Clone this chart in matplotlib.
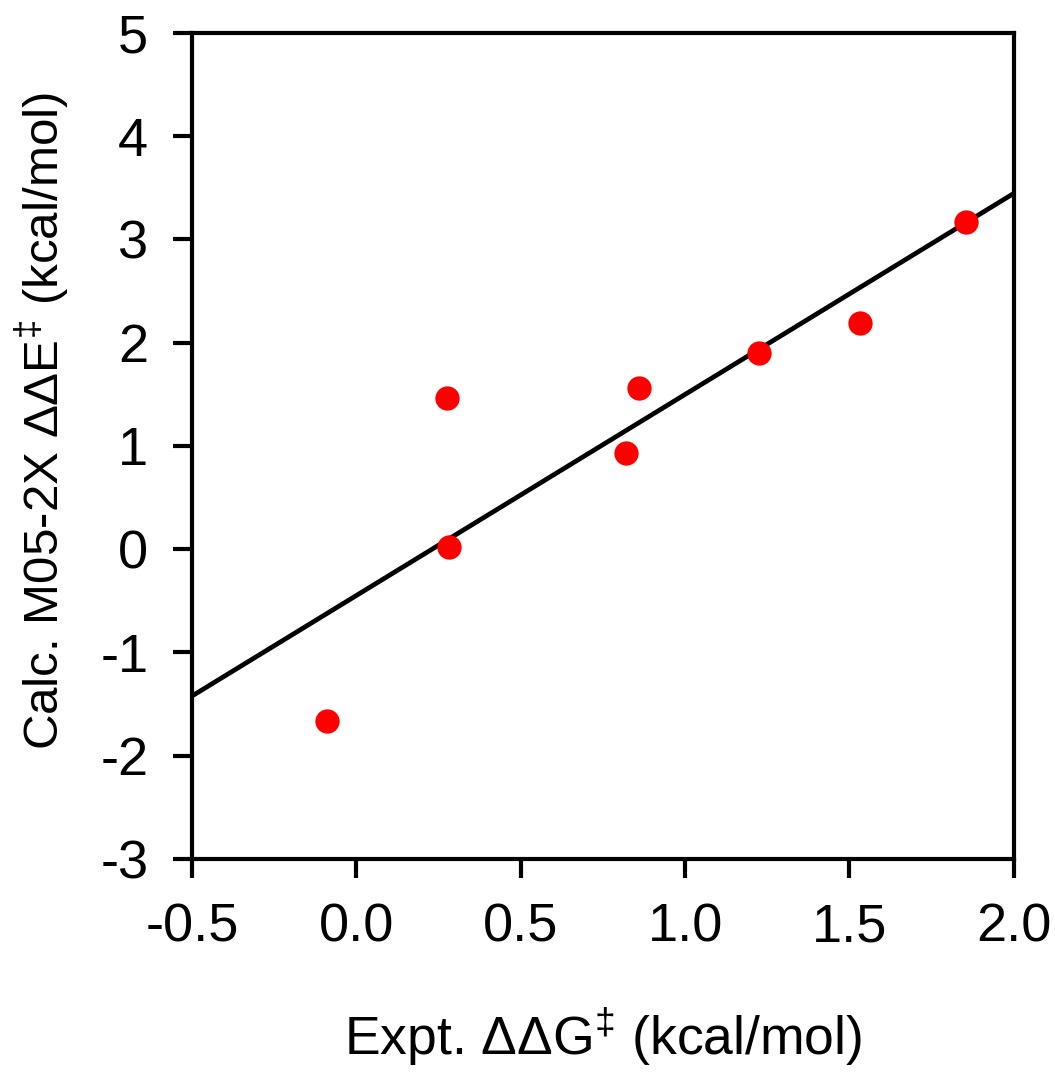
import matplotlib
matplotlib.use("Agg")
import matplotlib.pyplot as plt
import numpy as np

# measured points (expt vs calc)
expt = [-0.09, 0.276, 0.282, 0.82, 0.86, 1.224, 1.532, 1.854]
calc = [-1.66, 1.465, 0.02, 0.93, 1.56, 1.90, 2.19, 3.17]

xticks = [-0.5, 0.0, 0.5, 1.0, 1.5, 2.0]
yticks = [-3, -2, -1, 0, 1, 2, 3, 4, 5]

plt.rcParams['font.family'] = ['Liberation Sans', 'DejaVu Sans']
plt.rcParams['mathtext.fontset'] = 'custom'
plt.rcParams['mathtext.rm'] = 'Liberation Sans'

fig = plt.figure(figsize=(10.55, 10.72), dpi=100)
ax = fig.add_axes([0.182, 0.1987, 0.779, 0.7706])

# linear fit through the points
slope, icpt = np.polyfit(expt, calc, 1)
xl = np.array([-0.5, 2.0])
ax.plot(xl, slope * xl + icpt, color='black', lw=3.4, zorder=2)

ax.plot(expt, calc, 'o', color='#ff0000', ms=17.5, mec='none', zorder=3)

ax.set_xlim(-0.5, 2.0)
ax.set_ylim(-3, 5)
ax.set_xticks(xticks)
ax.set_xticklabels(['%.1f' % v for v in xticks])
ax.set_yticks(yticks)
ax.set_yticklabels(['%d' % v for v in yticks])

for s in ax.spines.values():
    s.set_linewidth(3.0)
ax.tick_params(direction='out', length=13.5, width=3.0, labelsize=39)
ax.tick_params(axis='x', pad=18)
ax.tick_params(axis='y', pad=18)

ax.set_xlabel(r'Expt. $\Delta\Delta$G$^{\ddag}$ (kcal/mol)', fontsize=38.5, labelpad=38)
ax.set_ylabel(r'Calc. M05-2X $\Delta\Delta$E$^{\ddag}$ (kcal/mol)', fontsize=35.5)
ax.yaxis.set_label_coords(-0.145, 0.53)

plt.savefig('out.png', dpi=100)
